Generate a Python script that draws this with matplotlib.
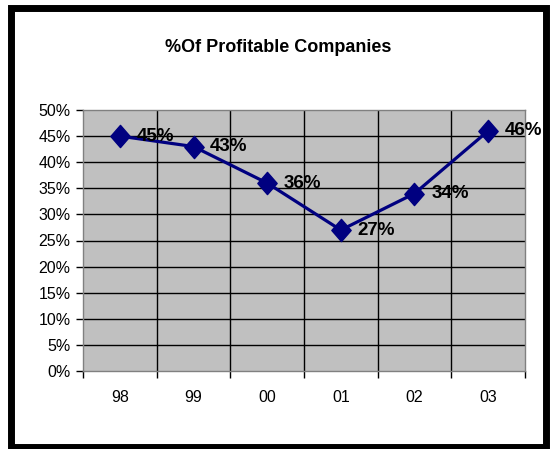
import matplotlib
matplotlib.use('Agg')
import matplotlib.pyplot as plt
from matplotlib.patches import Rectangle
from matplotlib.path import Path
import numpy as np

years = ['98', '99', '00', '01', '02', '03']
profitable = [45, 43, 36, 27, 34, 46]
y_ticks = [0, 5, 10, 15, 20, 25, 30, 35, 40, 45, 50]

plt.rcParams['font.family'] = ['Liberation Sans', 'DejaVu Sans']

W, H = 550, 449
fig = plt.figure(figsize=(W / 100, H / 100), dpi=100)
fig.patch.set_facecolor('white')

# thick black frame round the whole chart
fig.patches.append(Rectangle((11 / W, 1 - 446.5 / H), (545.5 - 11) / W, (446.5 - 7.5) / H,
                             transform=fig.transFigure, fill=False,
                             edgecolor='black', linewidth=5.0))

ax = fig.add_axes([83 / W, 1 - 371 / H, (525 - 83) / W, (371 - 110) / H])
ax.set_facecolor('#C0C0C0')

x = np.arange(len(years))
diamond = Path([(0, 1.15), (1, 0), (0, -1.15), (-1, 0), (0, 1.15)],
               [Path.MOVETO, Path.LINETO, Path.LINETO, Path.LINETO, Path.CLOSEPOLY])
ax.plot(x, profitable, color='#000080', linewidth=2.3, marker=diamond,
        markersize=16, markerfacecolor='#000080', markeredgecolor='#000080', zorder=3)

for xi, v in zip(x, profitable):
    ax.annotate(f'{v}%', (xi, v), xytext=(12, 0), textcoords='offset points',
                ha='left', va='center', fontsize=13.5, fontweight='bold', zorder=4)

ax.set_xlim(-0.5, len(years) - 0.5)
ax.set_ylim(0, 50)

ax.set_yticks(y_ticks)
ax.set_yticklabels([f'{t}%' for t in y_ticks], fontsize=11.5)
ax.set_xticks(x)
ax.set_xticklabels(years, fontsize=11.5)
ax.set_xticks(np.arange(-0.5, len(years), 1), minor=True)

for t in y_ticks[1:-1]:
    ax.axhline(t, color='black', linewidth=1.0, zorder=1)
for b in np.arange(0.5, len(years) - 1, 1):
    ax.axvline(b, color='black', linewidth=1.0, zorder=1)

ax.tick_params(axis='x', which='major', length=0, pad=14)
ax.tick_params(axis='x', which='minor', length=5, width=1, color='black', direction='out')
ax.tick_params(axis='y', length=5, width=1, color='black', direction='out', pad=4)

for s in ax.spines.values():
    s.set_color('#808080')
    s.set_linewidth(1.0)

fig.text(278 / W, 1 - 48 / H, '%Of Profitable Companies', ha='center', va='center',
         fontsize=13, fontweight='bold')

fig.savefig('out.png', dpi=100)
